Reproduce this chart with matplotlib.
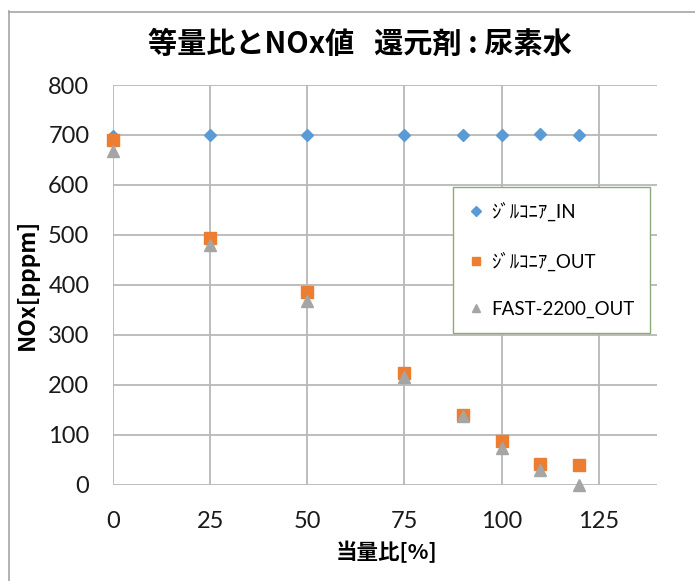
import matplotlib
matplotlib.use("Agg")
import matplotlib.pyplot as plt
from matplotlib.lines import Line2D

plt.rcParams['font.family'] = ['Lato', 'Noto Sans CJK JP', 'DejaVu Sans']

# Equivalence ratio [%] and measured NOx [ppm]
ratio = [0, 25, 50, 75, 90, 100, 110, 120]
zirconia_in = [698, 700, 700, 700, 700, 700, 702, 700]
zirconia_out = [690, 494, 385, 223, 140, 88, 41, 40]
fast_out = [668, 480, 368, 215, 138, 73, 29, 0]

series_labels = ['ｼﾞﾙｺﾆｱ_IN', 'ｼﾞﾙｺﾆｱ_OUT', 'FAST-2200_OUT']
x_ticks = [0, 25, 50, 75, 100, 125]
y_ticks = [0, 100, 200, 300, 400, 500, 600, 700, 800]

W, H = 695, 581
fig = plt.figure(figsize=(W / 100, H / 100), dpi=100)

# outer chart border (left and top edges visible)
border_col = '#a6a6a6'
fig.add_artist(Line2D([8.5 / W, 8.5 / W], [0, 1 - 11 / H], color=border_col, lw=1.2,
                      transform=fig.transFigure))
fig.add_artist(Line2D([8.5 / W, 1], [1 - 11.5 / H, 1 - 11.5 / H], color=border_col, lw=1.2,
                      transform=fig.transFigure))

left, right, top, bottom = 113, 657, 85, 484.5
ax = fig.add_axes([left / W, 1 - bottom / H, (right - left) / W, (bottom - top) / H])

ax.plot(ratio, zirconia_in, linestyle='none', marker='D', ms=6.5, color='#5b9bd5',
        label=series_labels[0], zorder=3, clip_on=False)
ax.plot(ratio, zirconia_out, linestyle='none', marker='s', ms=8, color='#ed7d31',
        label=series_labels[1], zorder=4, clip_on=False)
ax.plot(ratio, fast_out, linestyle='none', marker='^', ms=8.5, color='#a5a5a5',
        label=series_labels[2], zorder=5, clip_on=False)

ax.set_xlim(0, 140)
ax.set_ylim(0, 800)
ax.set_xticks(x_ticks)
ax.set_yticks(y_ticks)
ax.grid(True, color='#b8b8b8', lw=1.3)
ax.set_axisbelow(True)
for s in ax.spines.values():
    s.set_visible(False)
ax.tick_params(length=0, labelsize=17, labelcolor='#1a1a1a')
ax.tick_params(axis='x', pad=19)
ax.tick_params(axis='y', pad=17)

fig.text(387 / W, 1 - 552 / H, '当量比[%]', ha='center', va='center', fontsize=15.5,
         fontweight='bold', family=['Noto Sans CJK JP'])
fig.text(27 / W, 1 - 284 / H, 'NOx[pppm]', ha='center', va='center', rotation=90,
         fontsize=16.5, fontweight='bold', family=['Noto Sans CJK JP'])

fig.text(360 / W, 1 - 44 / H, '等量比とNOx値   還元剤 : 尿素水', ha='center', va='center',
         fontsize=21, fontweight='bold', family=['Noto Sans CJK JP'])

leg = ax.legend(loc='upper left', bbox_to_anchor=(453 / W, 1 - 187 / H),
                bbox_transform=fig.transFigure, fontsize=13.5, markerscale=0.75,
                frameon=True, fancybox=False, framealpha=1, edgecolor='#8eaa78',
                labelspacing=1.6, handlelength=0.8, handletextpad=0.45,
                borderpad=0.8, borderaxespad=0)
leg.get_frame().set_linewidth(1.0)
leg.set_zorder(10)

fig.savefig('out.png', dpi=100)
